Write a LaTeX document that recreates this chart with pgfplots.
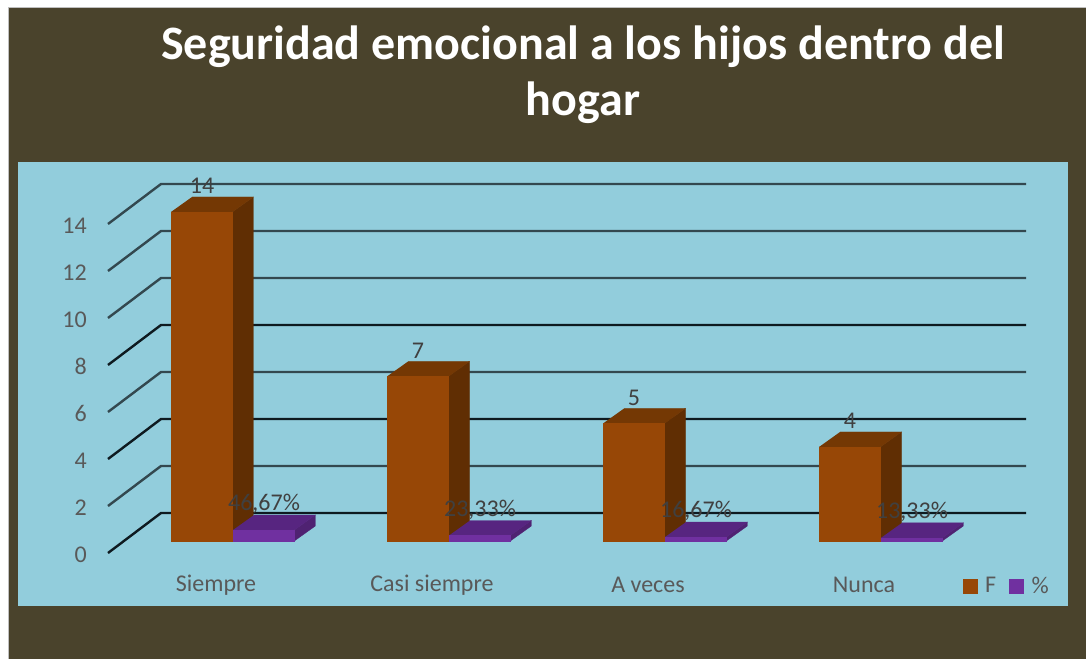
\documentclass[border=0pt]{standalone}
\usepackage{pgfplots}
\usepackage{pgfplotstable}
\usepackage{fontspec}
\setmainfont{Carlito}
\pgfplotsset{compat=1.18}
\definecolor{frameC}{HTML}{4A432C}
\definecolor{panelC}{HTML}{92CDDC}
\definecolor{fF}{HTML}{974706}
\definecolor{fS}{HTML}{602E03}
\definecolor{fT}{HTML}{743804}
\definecolor{pF}{HTML}{7030A0}
\definecolor{pS}{HTML}{4F2272}
\definecolor{pT}{HTML}{572580}
\definecolor{gridA}{HTML}{0E1A20}
\definecolor{gridB}{HTML}{33484F}
\pgfplotstableread{
a t d
0 0 0
1 0 0
1 1 0
0 1 0
}\faceFront
\pgfplotstableread{
a t d
0 1 0
1 1 0
1 1 1
0 1 1
}\faceTop
\pgfplotstableread{
a t d
1 0 0
1 0 1
1 1 1
1 1 0
}\faceSide
\pgfplotstableread{
x y
-0.5 0
-0.2546 1.702
3.75 1.702
}\gridShape
\pgfplotstableread{
x v lab
0 14 14
1 7 7
2 5 5
3 4 4
}\dataF
\pgfplotstableread{
x v lab
0 0.4667 46,67\%
1 0.2333 23,33\%
2 0.1667 16,67\%
3 0.1333 13,33\%
}\dataP
\newcommand{\solidbar}[5]{%
  \addplot[fill=#3,draw=#3,line width=0.3pt,forget plot] table[x expr={#1+\thisrow{a}*0.284+\thisrow{d}*0.0972},y expr={0.511+#2*\thisrow{t}+\thisrow{d}*0.638}] {\faceSide};
  \addplot[fill=#4,draw=#4,line width=0.3pt,forget plot] table[x expr={#1+\thisrow{a}*0.284+\thisrow{d}*0.0972},y expr={0.511+#2*\thisrow{t}+\thisrow{d}*0.638}] {\faceTop};
  \addplot[fill=#5,draw=#5,line width=0.3pt,forget plot] table[x expr={#1+\thisrow{a}*0.284+\thisrow{d}*0.0972},y expr={0.511+#2*\thisrow{t}+\thisrow{d}*0.638}] {\faceFront};
}
\newcommand{\gridat}[2]{%
  \addplot[color=#2,line width=2.4pt,forget plot] table[x=x,y expr={#1+\thisrow{y}}] {\gridShape};
}
\begin{document}
\begin{tikzpicture}[x=1pt,y=1pt]
\path[use as bounding box] (0,0) rectangle (1086,659);
\fill[white] (0,0) rectangle (1086,659);
\fill[frameC] (8.5,0) rectangle (1086,651);
\draw[black!25,line width=1pt] (8.5,0) -- (8.5,651) -- (1086,651);
\fill[panelC] (18,53) rectangle (1068,497);
\node[white,font=\fontsize{48}{56}\selectfont\bfseries,align=center,anchor=center] at (583,584.5) {Seguridad emocional a los hijos dentro del\\hogar};
\begin{axis}[
  at={(108pt,106pt)},anchor=south west,
  scale only axis,width=918pt,height=369pt,
  xmin=-0.5,xmax=3.75,ymin=0,ymax=15.702,
  clip=false,
  axis line style={draw=none},
  major tick length=0pt,
  xtick={0,1,2,3},
  xticklabels={Siempre,Casi siempre,A veces,Nunca},
  ytick={0,2,4,6,8,10,12,14},
  tick label style={font=\fontsize{24}{28}\selectfont,text=black!65},
  /pgf/number format/assume math mode=true,
  yticklabel style={anchor=east,inner sep=0pt,xshift=-21pt,yshift=-1.5pt},
  xticklabel style={anchor=center,inner sep=0pt,yshift=-32pt},
  legend style={at={(1.0,0)},anchor=east,xshift=25pt,yshift=-33pt,draw=none,fill=none,
    font=\fontsize{24}{28}\selectfont,text=black!65,legend columns=2,
    /tikz/every even column/.append style={column sep=11pt},
    /tikz/every odd column/.append style={column sep=6pt},inner sep=0pt},
  legend image code/.code={\fill[#1] (0pt,-7pt) rectangle (14pt,7pt);},
]
\gridat{0}{gridA}
\gridat{2}{gridB}
\gridat{4}{gridA}
\gridat{6}{gridB}
\gridat{8}{gridA}
\gridat{10}{gridB}
\gridat{12}{gridB}
\gridat{14}{gridB}
\solidbar{-0.2083}{14}{fS}{fT}{fF}
\solidbar{0.0787}{0.4667}{pS}{pT}{pF}
\solidbar{0.7917}{7}{fS}{fT}{fF}
\solidbar{1.0787}{0.2333}{pS}{pT}{pF}
\solidbar{1.7917}{5}{fS}{fT}{fF}
\solidbar{2.0787}{0.1667}{pS}{pT}{pF}
\solidbar{2.7917}{4}{fS}{fT}{fF}
\solidbar{3.0787}{0.1333}{pS}{pT}{pF}
\addplot[draw=none,forget plot,point meta=explicit symbolic,
  nodes near coords,nodes near coords align={anchor=center},
  every node near coord/.append style={font=\fontsize{24}{28}\selectfont,text=black!75,yshift=26pt,inner sep=0pt}]
  table[x expr={\thisrow{x}-0.0648},y expr={0.511+\thisrow{v}},meta=lab] {\dataF};
\addplot[draw=none,forget plot,point meta=explicit symbolic,
  nodes near coords,nodes near coords align={anchor=center},
  every node near coord/.append style={font=\fontsize{24}{28}\selectfont,text=black!75,yshift=26pt,inner sep=0pt}]
  table[x expr={\thisrow{x}+0.2222},y expr={0.511+\thisrow{v}},meta=lab] {\dataP};
\addlegendimage{fF}
\addlegendentry{F}
\addlegendimage{pF}
\addlegendentry{\%}
\end{axis}
\end{tikzpicture}
\end{document}
